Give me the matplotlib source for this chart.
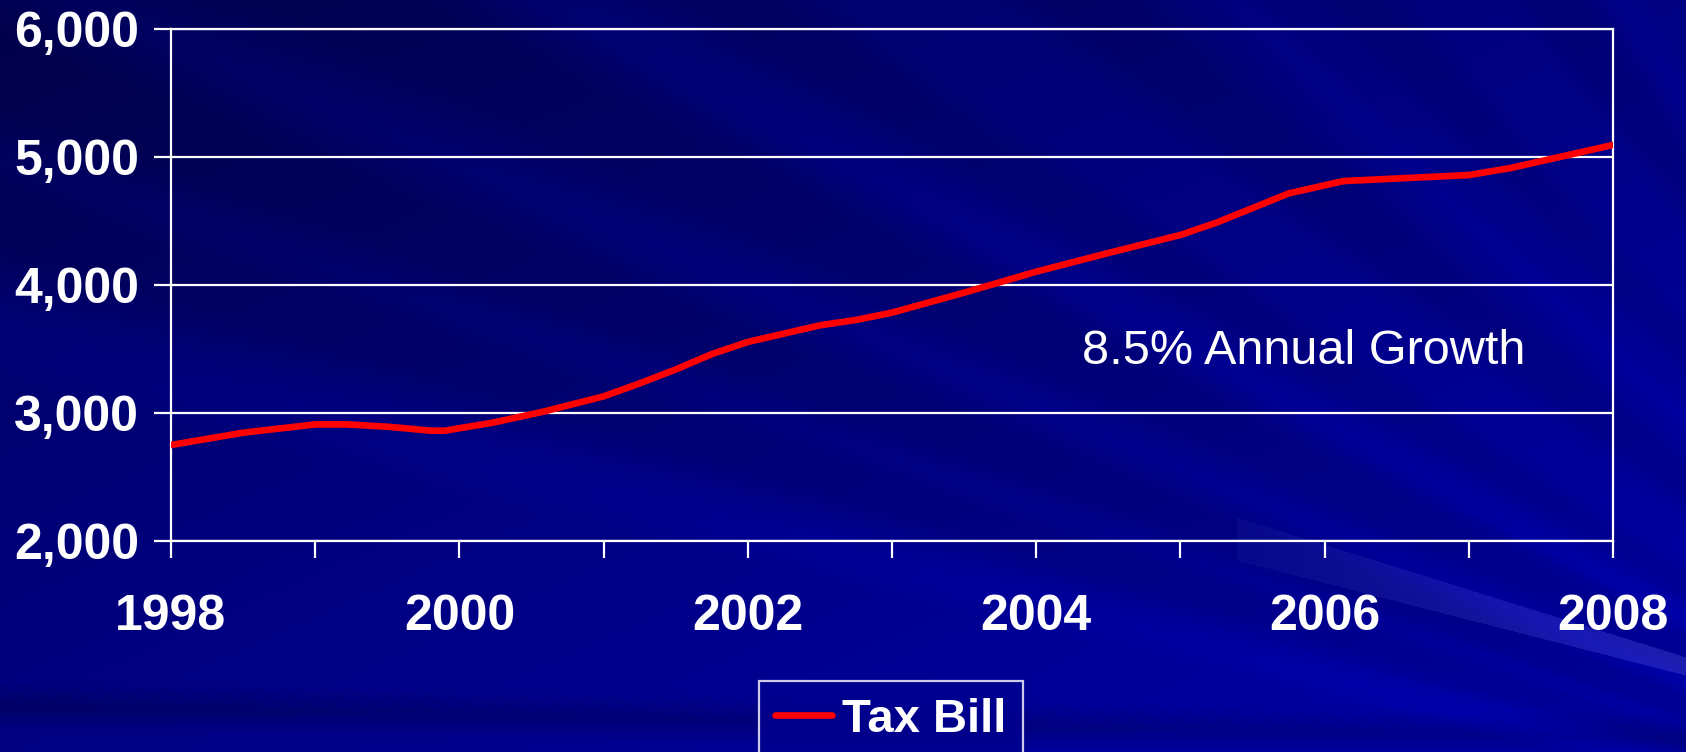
import numpy as np
import matplotlib
matplotlib.use("Agg")
import matplotlib.pyplot as plt
from matplotlib.lines import Line2D
from matplotlib.ticker import FuncFormatter, MultipleLocator

plt.rcParams['font.family'] = ['Liberation Sans', 'DejaVu Sans']

# Tax bill by year (read at half-year points)
years = [1998.0, 1998.5, 1999.0, 1999.22, 1999.5, 1999.8, 1999.9, 2000.23,
         2000.58, 2001.0, 2001.24, 2001.5, 2001.75, 2002.0, 2002.5, 2002.75,
         2003.0, 2003.5, 2004.0, 2004.5, 2005.0, 2005.25, 2005.75, 2006.13,
         2007.0, 2007.29, 2008.0]
tax_bill = [2750, 2846, 2911, 2911, 2893, 2862, 2862, 2924,
            3010, 3130, 3227, 3340, 3460, 3555, 3685, 3727,
            3784, 3940, 4104, 4250, 4391, 4487, 4715, 4812,
            4859, 4914, 5094]
year_labels = [1998, 2000, 2002, 2004, 2006, 2008]
y_ticks = [2000, 3000, 4000, 5000, 6000]
note = "8.5% Annual Growth"
series_name = "Tax Bill"

W, H = 1686, 752
fig = plt.figure(figsize=(W / 100, H / 100), dpi=100)

# slide background: navy gradient with diagonal streaks
yy, xx = np.mgrid[0:H, 0:W].astype(float)
blue = 90 + 40 * (xx / W) + 40 * (yy / H)
theta = np.arctan2(900 - yy, 2200 - xx)
streaks = [(0.36, 0.025, -18), (0.30, 0.02, -14), (0.45, 0.03, -16),
           (0.55, 0.02, -12), (0.68, 0.03, -14), (0.82, 0.02, -10),
           (0.95, 0.025, -12), (0.25, 0.015, 8), (0.50, 0.015, 6),
           (0.75, 0.012, 8), (1.00, 0.015, 6)]
for c, w, a in streaks:
    blue += a * np.clip(1.5 - np.abs(theta - c) / w, 0, 1)
# faint light ray near the lower right, brightening to the right
upper = 517 + (xx - 1236) * 0.311
lower = 560 + (xx - 1236) * 0.256
ray = (xx > 1236) & (yy > upper) & (yy < lower)
fade = np.clip((xx - 1236) / 450, 0, 1)
blue += ray * (8 + 16 * fade)
red = ray * (8 + 22 * fade)
# darker band along the bottom
blue -= 25 * np.clip(1 - np.abs(yy - (705 + xx * 0.02)) / 25, 0, 1)
bg = np.dstack([red, red, blue]).clip(0, 255) / 255
bg_ax = fig.add_axes([0, 0, 1, 1], zorder=-10)
bg_ax.imshow(bg, aspect='auto', interpolation='bilinear')
bg_ax.axis('off')

ax = fig.add_axes([171 / W, 1 - 541 / H, (1613 - 171) / W, (541 - 29) / H])
ax.patch.set_alpha(0)
ax.plot(years, tax_bill, color='#ff0000', linewidth=4.8, solid_capstyle='round', zorder=3)

ax.set_xlim(1998, 2008)
ax.set_ylim(2000, 6000)
ax.set_yticks(y_ticks)
ax.yaxis.set_major_formatter(FuncFormatter(lambda v, p: f"{int(v):,}"))
ax.xaxis.set_major_locator(MultipleLocator(1))
ax.set_xticklabels([str(int(t)) if int(t) in year_labels else "" for t in ax.get_xticks()])
ax.grid(axis='y', color='white', linewidth=1.6, zorder=1)

for s in ax.spines.values():
    s.set_color('white')
    s.set_linewidth(1.6)
ax.tick_params(axis='both', colors='white', width=1.6, length=12)
ax.tick_params(axis='y', pad=11)
ax.tick_params(axis='x', pad=26)
for lab in ax.get_yticklabels():
    lab.set_fontsize(36)
    lab.set_fontweight('bold')
for lab in ax.get_xticklabels():
    lab.set_fontsize(36)
    lab.set_fontweight('bold')

ax.text(2004.32, 3477, note, color='white', fontsize=35, ha='left', va='center')

handle = Line2D([], [], color='#ff0000', linewidth=4.8, solid_capstyle='round')
leg = fig.legend([handle], [series_name], loc='upper center',
                 bbox_to_anchor=(891 / W, 1 - 681 / H), frameon=True, fancybox=False,
                 handlelength=1.2, handletextpad=0.22, borderpad=0.35, borderaxespad=0,
                 prop={'size': 34, 'weight': 'bold'})
leg.get_frame().set_edgecolor('white')
leg.get_frame().set_facecolor('#00008f')
leg.get_frame().set_linewidth(1.6)
for t in leg.get_texts():
    t.set_color('white')

fig.savefig('out.png', dpi=100)
